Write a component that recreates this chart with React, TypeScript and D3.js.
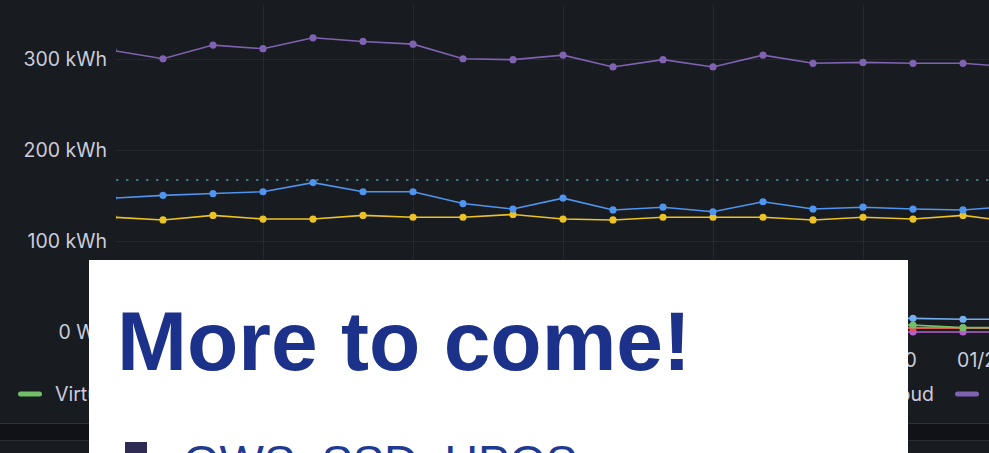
import React, { useEffect, useRef } from 'react';
import * as d3 from 'd3';

// time slots (8h apart), labels shown on the 00:00 ones
const times = [
  '01/14 00:00', '01/14 08:00', '01/14 16:00',
  '01/15 00:00', '01/15 08:00', '01/15 16:00',
  '01/16 00:00', '01/16 08:00', '01/16 16:00',
  '01/17 00:00', '01/17 08:00', '01/17 16:00',
  '01/18 00:00', '01/18 08:00', '01/18 16:00',
  '01/19 00:00', '01/19 08:00', '01/19 16:00',
  '01/20 00:00',
];

// kWh per slot
const publicCloud = [309, 300, 315, 311, 323, 319, 316, 300, 299, 304, 291, 299, 291, 304, 295, 296, 295, 295, 291];
const privateCloud = [147, 150, 152, 154, 164, 154, 154, 141, 135, 147, 134, 137, 132, 143, 135, 137, 135, 134, 138];
const hpc = [126, 123, 128, 124, 124, 128, 126, 126, 129, 124, 123, 126, 126, 126, 123, 126, 124, 128, 121];
const storage = [16, 15, 16, 15, 17, 16, 15, 16, 15, 16, 15, 16, 15, 16, 15, 15, 15, 14, 14];
const virtualMachines = [9, 8, 9, 8, 9, 8, 9, 8, 8, 9, 8, 8, 9, 8, 8, 8, 7.5, 4.8, 4.8];
const network = [4.5, 4.5, 4.6, 4.5, 4.4, 4.5, 4.6, 4.5, 4.5, 4.4, 4.5, 4.5, 4.6, 4.5, 4.5, 4.5, 4.5, 4.5, 4.5];
const backup = [4.4, 4.4, 4.5, 4.4, 4.3, 4.4, 4.5, 4.4, 4.4, 4.3, 4.4, 4.4, 4.5, 4.4, 4.4, 4.4, 4.4, 4.4, 4.4];
const archive = [0, 0, 0, 0, 0, 0, 0, 0, 0, 0, 0, 0, 0, 0, 0, 0, 0, 0, 0];

const threshold = 167;
const yTicks = [0, 100, 200, 300];

const legendNames = ['Virtual Machines', 'Storage', 'Network', 'Backup', 'Archive', 'HPC', 'Private Cloud', 'Public Cloud'];

const W = 989;
const H = 453;

const App = () => {
  const ref = useRef<SVGSVGElement>(null);

  useEffect(() => {
    const svg = d3.select(ref.current);
    svg.selectAll('*').remove();

    const series = [
      { name: 'Archive', color: '#b65fcb', values: archive },
      { name: 'Network', color: '#f2495c', values: network },
      { name: 'Backup', color: '#f0693a', values: backup },
      { name: 'Virtual Machines', color: '#73bf69', values: virtualMachines },
      { name: 'Storage', color: '#72aef0', values: storage },
      { name: 'HPC', color: '#eac226', values: hpc },
      { name: 'Private Cloud', color: '#4f94ee', values: privateCloud },
      { name: 'Public Cloud', color: '#7f62b2', values: publicCloud },
    ];
    const colorOf = (n: string) => series.find(s => s.name === n)!.color;

    const plot = { left: 116, right: W, top: 5, bottom: 332 };

    const x = d3.scalePoint<string>().domain(times).range([113, 1013]);
    const y = d3.scaleLinear().domain([0, 359]).range([plot.bottom, plot.top]);

    // panel background
    svg.append('rect').attr('width', W).attr('height', H).attr('fill', '#181b1f');

    svg.append('defs').append('clipPath').attr('id', 'plotclip')
      .append('rect')
      .attr('x', plot.left).attr('y', 0)
      .attr('width', plot.right - plot.left).attr('height', plot.bottom + 8);

    const grid = svg.append('g').attr('stroke', 'rgba(204,204,220,0.08)').attr('stroke-width', 1);
    yTicks.forEach(t => {
      grid.append('line')
        .attr('x1', plot.left).attr('x2', plot.right)
        .attr('y1', Math.round(y(t)) + 0.5).attr('y2', Math.round(y(t)) + 0.5);
    });
    const dayTicks = times.filter(t => t.endsWith('00:00') && (x(t) as number) >= plot.left);
    dayTicks.forEach(t => {
      grid.append('line')
        .attr('x1', Math.round(x(t)!) + 0.5).attr('x2', Math.round(x(t)!) + 0.5)
        .attr('y1', plot.top).attr('y2', plot.bottom);
    });

    const g = svg.append('g').attr('clip-path', 'url(#plotclip)');

    // threshold
    g.append('line')
      .attr('x1', plot.left).attr('x2', plot.right)
      .attr('y1', y(threshold)).attr('y2', y(threshold))
      .attr('stroke', '#4e8e99').attr('stroke-width', 1.5)
      .attr('stroke-dasharray', '2.5 7.5');

    const line = d3.line<number>()
      .x((_, i) => x(times[i])!)
      .y(d => y(d));

    series.forEach(s => {
      g.append('path')
        .datum(s.values)
        .attr('d', line)
        .attr('fill', 'none')
        .attr('stroke', s.color)
        .attr('stroke-width', 1.6);
    });
    series.forEach(s => {
      if (s.name === 'Backup') return;
      g.append('g').selectAll('circle')
        .data(s.values)
        .join('circle')
        .attr('cx', (_, i) => x(times[i])!)
        .attr('cy', d => y(d))
        .attr('r', 3.6)
        .attr('fill', s.color);
    });

    const font = 'Inter, "Noto Sans", sans-serif';

    // y axis labels
    svg.append('g').selectAll('text')
      .data(yTicks)
      .join('text')
      .attr('x', 107)
      .attr('y', d => y(d) + 7)
      .attr('text-anchor', 'end')
      .attr('font-family', font)
      .attr('font-size', 19.5)
      .attr('fill', '#ccccdc')
      .text(d => (d === 0 ? '0 Wh' : `${d} kWh`));

    // x axis labels
    svg.append('g').selectAll('text')
      .data(dayTicks)
      .join('text')
      .attr('x', d => x(d)!)
      .attr('y', 367)
      .attr('text-anchor', 'middle')
      .attr('font-family', font)
      .attr('font-size', 19.5)
      .attr('fill', '#ccccdc')
      .text(d => d);

    // legend: first item from the left, the rest laid out from the right edge
    const lg = svg.append('g');
    const items = legendNames.map(n => {
      const it = lg.append('g');
      it.append('rect').attr('width', 24).attr('height', 5).attr('rx', 2.5).attr('y', 391.5).attr('fill', colorOf(n));
      const tx = it.append('text')
        .attr('y', 401)
        .attr('font-family', font)
        .attr('font-size', 19.5)
        .attr('fill', '#ccccdc')
        .text(n);
      const w = (tx.node() as SVGTextElement).getComputedTextLength();
      return { it, w };
    });
    items[0].it.attr('transform', 'translate(18,0)');
    items[0].it.select('text').attr('x', 37);
    let swatchX = 955;
    for (let i = items.length - 1; i >= 1; i--) {
      items[i].it.attr('transform', `translate(${swatchX},0)`);
      items[i].it.select('text').attr('x', 37);
      swatchX = swatchX - 21 - items[i - 1].w - 37;
    }

    // panel bottom / next panel
    svg.append('rect').attr('x', 0).attr('y', 423).attr('width', W).attr('height', 1).attr('fill', '#2f3237');
    svg.append('rect').attr('x', 0).attr('y', 424).attr('width', W).attr('height', 16).attr('fill', '#111217');
    svg.append('rect').attr('x', 0).attr('y', 440).attr('width', W).attr('height', 1).attr('fill', '#2a2d32');

    // slide overlay
    svg.append('rect').attr('x', 89).attr('y', 260).attr('width', 819).attr('height', 200).attr('fill', '#ffffff');
    svg.append('text')
      .attr('x', 117).attr('y', 370)
      .attr('font-family', '"Liberation Sans", Arial, sans-serif')
      .attr('font-weight', 'bold')
      .attr('font-size', 84)
      .attr('fill', '#1c318a')
      .text('More to come!');
    svg.append('rect').attr('x', 125).attr('y', 442).attr('width', 22).attr('height', 22).attr('fill', '#2f2b52');
    svg.append('text')
      .attr('x', 183).attr('y', 478)
      .attr('font-family', '"Liberation Sans", Arial, sans-serif')
      .attr('font-size', 47)
      .attr('fill', '#1f3a93')
      .text('GWS, SSD, HPOS');

    return () => {
      svg.selectAll('*').remove();
    };
  }, []);

  return (
    <svg
      ref={ref}
      width={W}
      height={H}
      style={{ position: 'absolute', left: 0, top: 0, display: 'block' }}
    />
  );
};

export default App;
